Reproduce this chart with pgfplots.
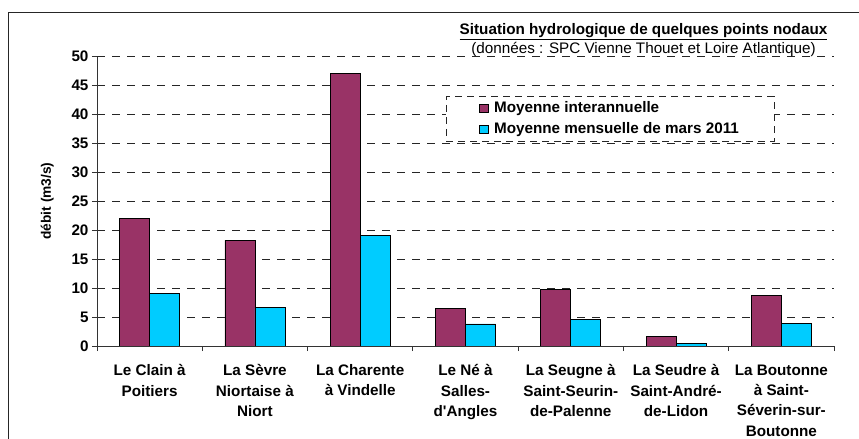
\documentclass[border=0pt]{standalone}
\usepackage{pgfplots}
\pgfplotsset{compat=1.18}
\usepackage{fontspec}
\setmainfont{Liberation Sans}
\definecolor{barpurple}{HTML}{993366}
\definecolor{barcyan}{HTML}{00CCFF}
\newcommand{\cf}{\fontsize{15.3}{20.5}\selectfont\bfseries}
\begin{document}
\begin{tikzpicture}
\useasboundingbox (0,0) rectangle (859bp,439bp);
\draw[line width=0.9bp, black!85] (8.5bp,0) -- (8.5bp,427bp) -- (859bp,427bp);
\begin{axis}[
  at={(97bp,93bp)}, anchor=south west,
  scale only axis, width=737bp, height=290bp,
  xmin=-0.5, xmax=6.5, ymin=0, ymax=50,
  axis lines=left, axis line style={-, black!80, line width=0.8bp},
  ybar, bar width=30bp,
  ytick={0,5,...,45}, extra y ticks={50},
  extra y tick style={grid style={black!25, line width=0.8bp, dash pattern=on 8bp off 7bp}},
  ymajorgrids, major grid style={black!85, line width=0.8bp, dash pattern=on 8bp off 7bp},
  tick align=outside, major tick length=5bp, minor tick length=5bp,
  tick style={black!80, line width=0.8bp},
  xtick={0,...,6},
  every major x tick/.style={draw=none},
  minor xtick={-0.5,0.5,...,6.5},
  xticklabels={{Le Clain à\\Poitiers},{La Sèvre\\Niortaise à\\Niort},{La Charente\\à Vindelle},{Le Né à\\Salles-\\d\textquotesingle Angles},{La Seugne à\\Saint-Seurin-\\de-Palenne},{La Seudre à\\Saint-André-\\de-Lidon},{La Boutonne\\à Saint-\\Séverin-sur-\\Boutonne}},
  x tick label style={align=center, font=\cf, yshift=-10bp},
  y tick label style={font=\cf},
  /pgf/number format/assume math mode=true,
  ylabel={débit (m3/s)},
  every axis y label/.style={at={(axis description cs:-0.0675,0.5)}, rotate=90, anchor=center, font=\fontsize{13.8}{16}\selectfont\bfseries},
  legend style={at={(0.4735,0.862)}, anchor=north west, draw=black!85, line width=0.8bp, dash pattern=on 7bp off 5bp, fill=white, font=\cf, inner xsep=33bp, inner ysep=3.5bp, row sep=4.5bp},
  legend cell align=left,
  legend image code/.code={\draw[#1,solid,line width=0.6bp] (0bp,-4.2bp) rectangle (8.4bp,4.2bp); \path (12bp,0bp);},
]
\addplot[fill=barpurple, draw=black, line width=0.8bp, bar shift=-15bp] coordinates {(0,22) (1,18.2) (2,47) (3,6.4) (4,9.8) (5,1.7) (6,8.7)};
\addplot[fill=barcyan, draw=black, line width=0.8bp, bar shift=15bp] coordinates {(0,9.1) (1,6.6) (2,19.1) (3,3.8) (4,4.5) (5,0.5) (6,3.9)};
\legend{Moyenne interannuelle, Moyenne mensuelle de mars 2011}
\end{axis}
\node[font=\cf] at (643.5bp,407bp) {\underline{Situation hydrologique de quelques points nodaux}};
\node[font=\fontsize{15.3}{20.5}\selectfont] at (643.5bp,389.5bp) {(données : SPC Vienne Thouet et Loire Atlantique)};
\end{tikzpicture}
\end{document}
